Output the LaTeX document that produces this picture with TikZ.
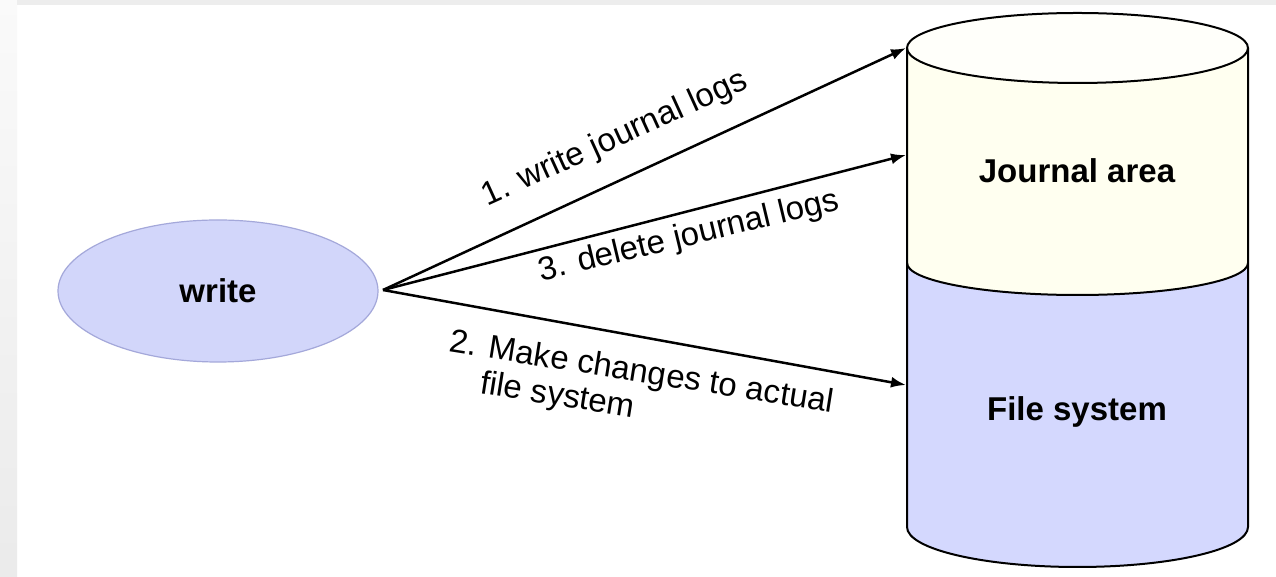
\documentclass[tikz,border=0pt]{standalone}
\usepackage{fontspec}
\setmainfont{Liberation Sans}
\usetikzlibrary{arrows.meta,shapes.geometric}
\definecolor{ellfill}{HTML}{D2D6FA}
\definecolor{ellline}{HTML}{A4A8DA}
\definecolor{jfill}{HTML}{FFFFF0}
\definecolor{jtop}{HTML}{FFFFFA}
\definecolor{ffill}{HTML}{D4D8FE}
\begin{document}
\begin{tikzpicture}[x=1pt,y=1pt,
  lbl/.style={font=\fontsize{33}{36}\selectfont, inner sep=0pt},
  boldlbl/.style={font=\fontsize{33}{36}\selectfont\bfseries, inner sep=0pt},
  arr/.style={line width=2.5pt, -{Latex[length=15pt,width=11pt]}},
  cyl/.style={line width=2pt, draw=black}]
\useasboundingbox (0,0) rectangle (1276,577);
\fill[white] (0,0) rectangle (1276,577);
\shade[top color=gray!4, bottom color=gray!16] (0,0) rectangle (17,577);
\fill[gray!14] (17,572) rectangle (1276,577);

% write ellipse
\node[ellipse, draw=ellline, fill=ellfill, line width=1.2pt, minimum width=320pt,
      minimum height=142pt, boldlbl] (w) at (218,286) {write};

% cylinder
\fill[jfill] (907,529) -- (907,314) arc[start angle=180,end angle=360,x radius=170.5pt,y radius=32pt]
   -- (1248,529) arc[start angle=0,end angle=180,x radius=170.5pt,y radius=35pt] -- cycle;
\fill[ffill] (907,314) -- (907,50) arc[start angle=180,end angle=360,x radius=170.5pt,y radius=40pt]
   -- (1248,314) arc[start angle=0,end angle=-180,x radius=170.5pt,y radius=32pt] -- cycle;
\draw[cyl, fill=jtop] (1077.5,529) ellipse[x radius=170.5pt, y radius=35pt];
\draw[cyl] (907,529) -- (907,50) arc[start angle=180,end angle=360,x radius=170.5pt,y radius=40pt] -- (1248,529);
\draw[cyl] (907,314) arc[start angle=180,end angle=360,x radius=170.5pt,y radius=32pt];

\node[boldlbl] (ja) at (1077,406) {Journal area};
\node[boldlbl] (fs) at (1077,165.5) {File system};

\coordinate (t1) at (906,529);
\coordinate (t3) at (906,422);
\coordinate (t2) at (906,192);
\coordinate (src) at (383,287);

\draw[arr] (src) -- (t1);
\draw[arr] (src) -- (t3);
\draw[arr] (src) -- (t2);

\node[lbl, rotate=24.5] (l1) at (615,438) {1. write journal logs};
\node[lbl, rotate=13.5] (l3) at (689,340) {3. delete journal logs};
\node[lbl, rotate=-9, align=left] (l2) at (638.5,185.6) {2. Make changes to actual\\\hspace*{37pt}file system};
\end{tikzpicture}
\end{document}
